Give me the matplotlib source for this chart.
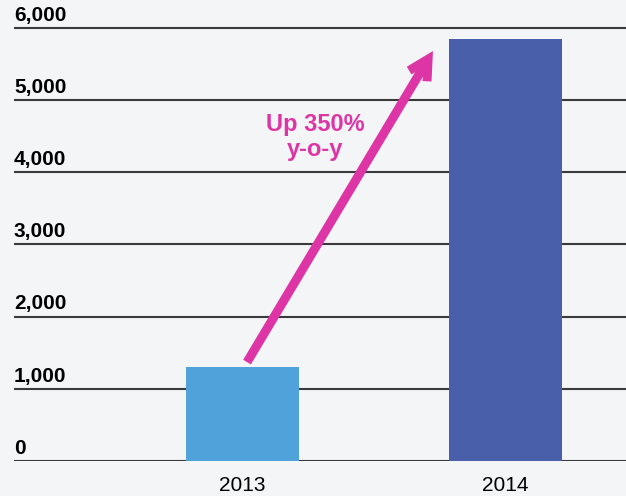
import numpy as np
import matplotlib.pyplot as plt
import matplotlib.transforms as mtransforms

# data
years = ['2013', '2014']
values = [1300, 5850]
bar_colors = ['#50a3da', '#4a5faa']
yticks = [0, 1000, 2000, 3000, 4000, 5000, 6000]
ytick_labels = ['0', '1,000', '2,000', '3,000', '4,000', '5,000', '6,000']
note = 'Up 350%\ny-o-y'

bg = '#f4f5f7'
pink = '#de35a6'

plt.rcParams['font.family'] = ['Liberation Sans', 'DejaVu Sans']

fig = plt.figure(figsize=(6.26, 4.96), dpi=100, facecolor=bg)
ax = fig.add_axes([14/626, 35/496, 612/626, 441/496], facecolor=bg)

x = np.arange(len(years))
ax.set_xlim(-0.869, 1.458)
ax.set_ylim(0, 6110)

# gridlines
for t in yticks:
    ax.axhline(t, color='#3a3a3a', lw=1.5, zorder=1)

ax.bar(x, values, width=0.43, color=bar_colors, zorder=2)

# y labels sitting on the lines
tr = mtransforms.blended_transform_factory(ax.transAxes, ax.transData)
for t, lab in zip(yticks, ytick_labels):
    ax.text(0, t + 45, lab, transform=tr, ha='left', va='bottom',
            fontsize=15, fontweight='bold', color='black')

ax.set_xticks(x)
ax.set_xticklabels(years, fontsize=15)
ax.set_yticks([])
ax.tick_params(axis='x', length=0, pad=11)
for s in ax.spines.values():
    s.set_visible(False)

# arrow
ax.annotate('', xy=(0.724, 5680), xytext=(0.017, values[0] + 70),
            arrowprops=dict(arrowstyle='->,head_length=1.4,head_width=0.75',
                            color=pink, lw=6.5, shrinkA=0, shrinkB=0,
                            joinstyle='miter', capstyle='butt'), zorder=3)
ax.text(0.276, 4490, note, ha='center', va='center', fontsize=17,
        fontweight='bold', color=pink, linespacing=1.1, zorder=4)

fig.savefig('out.png', dpi=100, facecolor=bg)
